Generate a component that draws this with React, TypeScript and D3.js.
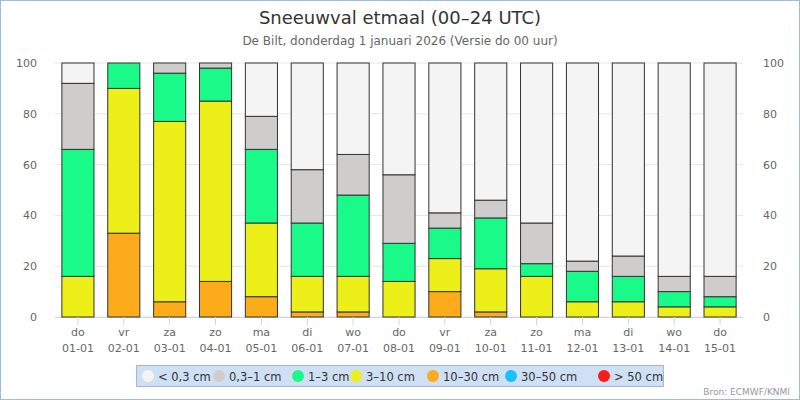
import React from "react";
import * as d3 from "d3";

const days = ["do", "vr", "za", "zo", "ma", "di", "wo", "do", "vr", "za", "zo", "ma", "di", "wo", "do"];
const dates = ["01-01", "02-01", "03-01", "04-01", "05-01", "06-01", "07-01", "08-01", "09-01", "10-01", "11-01", "12-01", "13-01", "14-01", "15-01"];

// percentages per class, bottom to top
const cls30to50 = [0, 0, 0, 0, 0, 0, 0, 0, 0, 0, 0, 0, 0, 0, 0];
const cls10to30 = [0, 33, 6, 14, 8, 2, 2, 0, 10, 2, 0, 0, 0, 0, 0];
const cls3to10 = [16, 57, 71, 71, 29, 14, 14, 14, 13, 17, 16, 6, 6, 4, 4];
const cls1to3 = [50, 10, 19, 13, 29, 21, 32, 15, 12, 20, 5, 12, 10, 6, 4];
const cls03to1 = [26, 0, 4, 2, 13, 21, 16, 27, 6, 7, 16, 4, 8, 6, 8];
const clsLt03 = [8, 0, 0, 0, 21, 42, 36, 44, 59, 54, 63, 78, 76, 84, 84];

const legend = [
  { name: "< 0,3 cm", color: "#f4f4f4" },
  { name: "0,3–1 cm", color: "#cfcdcb" },
  { name: "1–3 cm", color: "#19fa88" },
  { name: "3–10 cm", color: "#edef18" },
  { name: "10–30 cm", color: "#fcab1a" },
  { name: "30–50 cm", color: "#1ac0fc" },
  { name: "> 50 cm", color: "#fc1a1a" },
];
const legendX = [148, 219, 298, 356, 433, 511, 604];

const stack = [
  { vals: cls30to50, color: "#1ac0fc" },
  { vals: cls10to30, color: "#fcab1a" },
  { vals: cls3to10, color: "#edef18" },
  { vals: cls1to3, color: "#19fa88" },
  { vals: cls03to1, color: "#cfcdcb" },
  { vals: clsLt03, color: "#f4f4f4" },
];

const W = 800, H = 400;
const L = 55, R = 743, T = 63, B = 317;
const font = "'DejaVu Sans', sans-serif";

export default function App() {
  const x = d3.scaleBand<number>().domain(d3.range(days.length)).range([L, R]).paddingInner(0.3).paddingOuter(0.15);
  const y = d3.scaleLinear().domain([0, 100]).range([B, T]);
  const ticks = [0, 20, 40, 60, 80, 100];
  return (
    <svg width={W} height={H} style={{ position: "absolute", left: 0, top: 0, fontFamily: font }}>
      <rect x={0.5} y={0.5} width={W - 1} height={H - 1} fill="#fff" stroke="#99bbee" />
      <text x={W / 2} y={24} textAnchor="middle" fontSize={18} fill="#333">Sneeuwval etmaal (00–24 UTC)</text>
      <text x={W / 2} y={45} textAnchor="middle" fontSize={12} fill="#666">De Bilt, donderdag 1 januari 2026 (Versie do 00 uur)</text>
      {ticks.map((t) => (
        <g key={t}>
          <line x1={L} x2={R} y1={y(t)} y2={y(t)} stroke="#e6e6e6" />
          <text x={L - 18} y={y(t) + 4} textAnchor="end" fontSize={11} fill="#666">{t}</text>
          <text x={R + 20} y={y(t) + 4} textAnchor="start" fontSize={11} fill="#666">{t}</text>
        </g>
      ))}
      <line x1={L} x2={R} y1={B + 0.5} y2={B + 0.5} stroke="#ccd6eb" />
      {days.map((d, i) => {
        let acc = 0;
        const cx = x(i)! + x.bandwidth() / 2;
        return (
          <g key={i}>
            {stack.map((s, k) => {
              const v = s.vals[i];
              const y0 = acc;
              acc += v;
              if (v <= 0) return null;
              return (
                <rect key={k} x={x(i)!} width={x.bandwidth()} y={y(y0 + v)} height={y(y0) - y(y0 + v)}
                  fill={s.color} stroke="#333" strokeWidth={1} />
              );
            })}
            <line x1={cx} x2={cx} y1={B} y2={B + 8} stroke="#ccd6eb" />
            <text x={cx} y={336} textAnchor="middle" fontSize={11} fill="#666">{d}</text>
            <text x={cx} y={352} textAnchor="middle" fontSize={11} fill="#666">{dates[i]}</text>
          </g>
        );
      })}
      <rect x={136.5} y={365.5} width={527} height={21} fill="#cfe0f5" stroke="#a8b8cc" />
      {legend.map((l, i) => (
        <g key={i}>
          <circle cx={legendX[i]} cy={376} r={6} fill={l.color} />
          <text x={legendX[i] + 10} y={380.5} fontSize={11.5} fill="#333">{l.name}</text>
        </g>
      ))}
      <text x={790} y={395} textAnchor="end" fontSize={9} fill="#999">Bron: ECMWF/KNMI</text>
    </svg>
  );
}
